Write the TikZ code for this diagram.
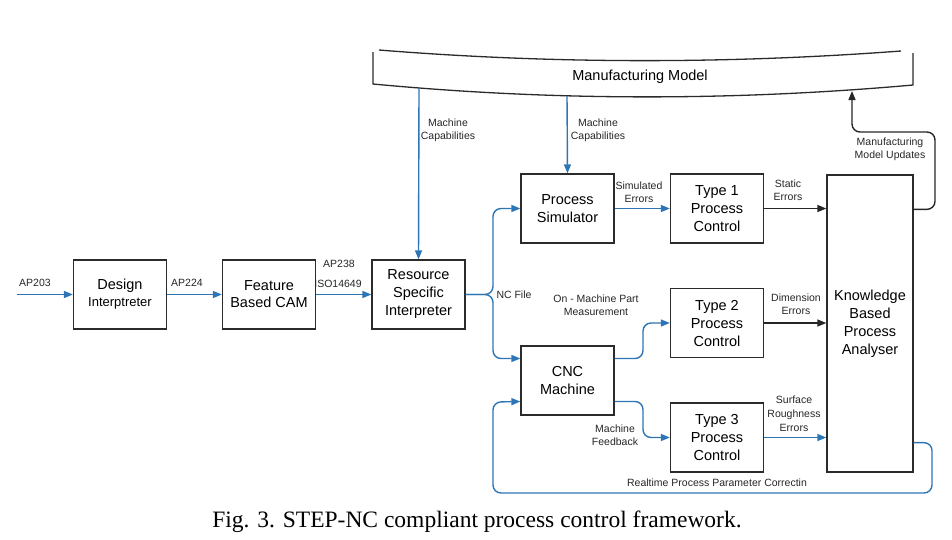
\documentclass[tikz,border=0pt]{standalone}
\definecolor{lineBlue}{HTML}{2E75B6}
\definecolor{boxGray}{HTML}{2B2B2B}
\usepackage{fontspec}
\setmainfont{Liberation Sans}
\newfontfamily\capfont{Liberation Serif}
\usepackage{tikz}
\usetikzlibrary{arrows.meta, positioning, calc}

\begin{document}
\begin{tikzpicture}[
    x=1pt, y=-1pt,
    box/.style={rectangle, draw=boxGray, line width=1.3pt, minimum width=93pt, minimum height=69pt, align=center, inner sep=0pt, font=\fontsize{14.5}{18}\selectfont},
    lbl/.style={align=center, inner sep=0pt, text=black!85, font=\fontsize{10.5}{13}\selectfont},
    arr/.style={-{Triangle[length=9pt, width=7pt]}, line width=1.4pt, lineBlue},
    darr/.style={-{Triangle[length=9pt, width=7pt]}, line width=1.4pt, black!85},
    fb/.style={arr, rounded corners=8pt}
]
\useasboundingbox (0,0) rectangle (952,539);

% manufacturing model
\draw[line width=1.3pt, boxGray] (379,50) .. controls (553,64) and (727,64) .. (901,51);
\draw[line width=1.3pt, boxGray] (373,52) -- (373,84) .. controls (553,101) and (733,101) .. (913,85) -- (913,53);
\node[font=\fontsize{14.5}{18}\selectfont] (mm) at (640,77) {Manufacturing Model};
\coordinate (mcap1) at (419,88);
\coordinate (mcap2) at (567,96);
\coordinate (mupd) at (852,91);

% boxes
\node[box] (des) at (120,294.5) {Design\\[-1pt]{\fontsize{13}{15}\selectfont Interptreter}};
\node[box] (cam) at (269,294.5) {Feature\\[-1pt]Based CAM};
\node[box] (res) at (418.5,294.5) {Resource\\Specific\\Interpreter};
\node[box] (sim) at (567.5,208.5) {Process\\Simulator};
\node[box] (t1) at (717,208.5) {Type 1\\Process\\Control};
\node[box] (t2) at (717,323) {Type 2\\Process\\Control};
\node[box] (cnc) at (567.5,380.5) {CNC\\Machine};
\node[box] (t3) at (717,437.5) {Type 3\\Process\\Control};
\node[box, minimum width=86pt, minimum height=297pt] (kb) at (870,323.5) {Knowledge\\Based\\Process\\Analyser};
\coordinate (in) at (17,294.5);

% connectors
\draw[arr] (in) -- (des);
\draw[arr] (des) -- (cam);
\draw[arr] (cam) -- (res);
\draw[arr] (mcap1) -- (res.north);
\draw[arr] (mcap2) -- (sim.north);
\draw[fb] (res.east) -- (493,294.5) |- (sim.west);
\draw[fb] (res.east) -- (493,294.5) |- ([yshift=22pt]cnc.west);
\draw[arr] (sim) -- (t1);
\draw[darr] (t1) -- (t1 -| kb.west);
\draw[fb] ([yshift=22pt]cnc.east) -| (643,323) -- (t2.west);
\draw[darr] (t2) -- (t2 -| kb.west);
\draw[fb] ([yshift=-21pt]cnc.east) -| (643,437.5) -- (t3.west);
\draw[arr] (t3) -- (t3 -| kb.west);
\draw[darr, rounded corners=8pt] ([yshift=-35pt]kb.north east) -| (935,132) -| (mupd);
\draw[fb] ([yshift=30pt]kb.south east) -| (932,493) -| (493,402) -- ([yshift=-21pt]cnc.west);

% labels
\node[lbl] (l203) at (35,283) {AP203};
\node[lbl] (l224) at (187,283) {AP224};
\node[lbl] (l238) at (339,264) {AP238};
\node[lbl] (liso) at (338,284) {ISO14649};
\node[lbl] (lcap1) at (448,130.5) {Machine\\Capabilities};
\node[lbl] (lcap2) at (598,130.5) {Machine\\Capabilities};
\node[lbl] (lnc) at (514,294.5) {NC File};
\node[lbl] (lsim) at (639,192) {Simulated\\Errors};
\node[lbl] (lstat) at (788,190.5) {Static\\Errors};
\node[lbl] (lmeas) at (596,305) {On - Machine Part\\Measurement};
\node[lbl] (ldim) at (796,304.5) {Dimension\\Errors};
\node[lbl] (lfeed) at (615,435.5) {Machine\\Feedback};
\node[lbl, font=\fontsize{10.5}{14}\selectfont] (lsurf) at (794,414) {Surface\\Roughness\\Errors};
\node[lbl] (lupd) at (890,149) {Manufacturing\\Model Updates};
\node[lbl] (lrt) at (717,483) {Realtime Process Parameter Correctin};

% caption
\node[font=\capfont\fontsize{23.5}{26}\selectfont] (cap) at (477,522) {Fig. 3. STEP-NC compliant process control framework.};
\end{tikzpicture}
\end{document}
